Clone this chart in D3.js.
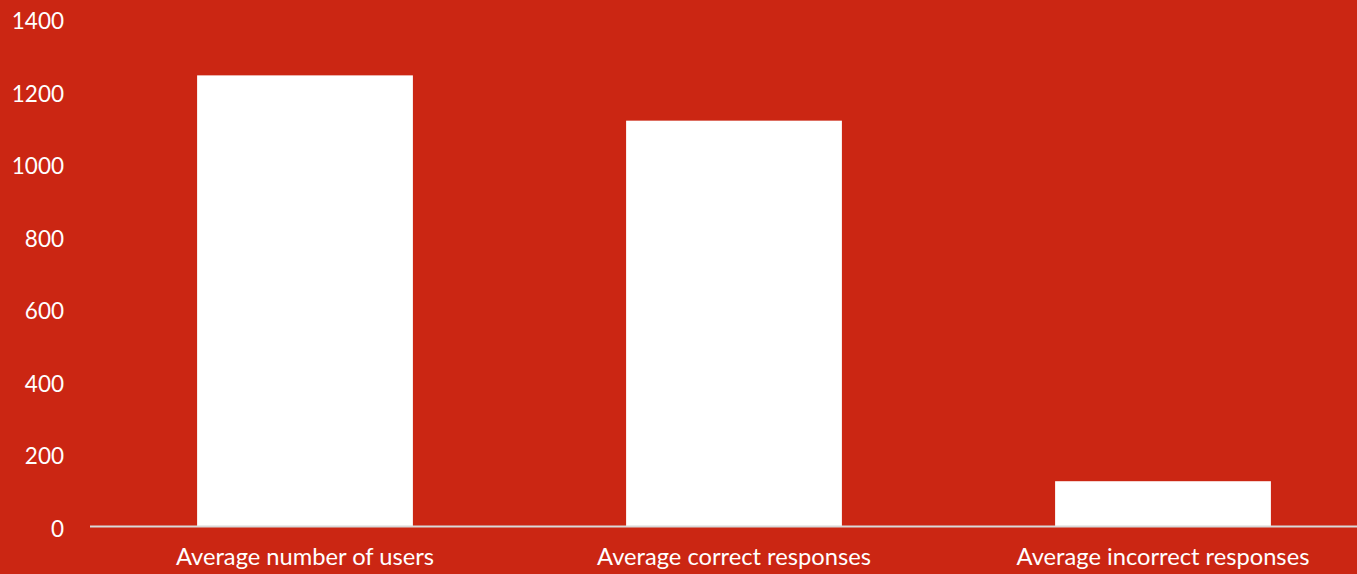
<!DOCTYPE html>
<html><head><meta charset="utf-8">
<script src="https://cdn.jsdelivr.net/npm/d3@7"></script>
<style>html,body{margin:0;padding:0;background:#CB2613;overflow:hidden}</style>
</head><body>
<svg id="chart" width="1357" height="574"></svg>
<script>
const categories = ["Average number of users", "Average correct responses", "Average incorrect responses"];
const values = [1245, 1120, 125];
const yTicks = [0, 200, 400, 600, 800, 1000, 1200, 1400];

const svg = d3.select("#chart");
const W = 1357, H = 574;
svg.append("rect").attr("width", W).attr("height", H).attr("fill", "#CB2613");

const x = d3.scaleBand().domain(categories).range([90.5, 1377.5]).paddingInner(0.497).paddingOuter(0.2485);
const y = d3.scaleLinear().domain([0, 1400]).range([526.5, 19.2]);

const font = "Lato, 'Open Sans', sans-serif";

// y axis labels
const yAxis = d3.axisLeft(y).tickValues(yTicks).tickSize(0).tickPadding(0).tickFormat(d3.format("d"));
const gy = svg.append("g").attr("transform", "translate(64,2.5)").call(yAxis);
gy.select(".domain").remove();
gy.selectAll("text").attr("fill", "#FFFFFF").style("font-family", font).style("font-size", "22.5px");

// bars
svg.append("g").selectAll("rect").data(values).join("rect")
  .attr("x", (d, i) => x(categories[i]))
  .attr("width", x.bandwidth())
  .attr("y", d => y(d))
  .attr("height", d => y(0) - y(d))
  .attr("fill", "#FFFFFF");

// baseline
svg.append("line").attr("x1", 90).attr("x2", W).attr("y1", y(0)).attr("y2", y(0))
  .attr("stroke", "#D9D9D9").attr("stroke-width", 2);

// x labels
const xAxis = d3.axisBottom(x).tickSize(0).tickPadding(0);
const gx = svg.append("g").attr("transform", `translate(0,${y(0) + 22})`).call(xAxis);
gx.select(".domain").remove();
gx.selectAll("text").attr("fill", "#FFFFFF").style("font-family", font).style("font-size", "23.7px");
</script>
</body></html>
